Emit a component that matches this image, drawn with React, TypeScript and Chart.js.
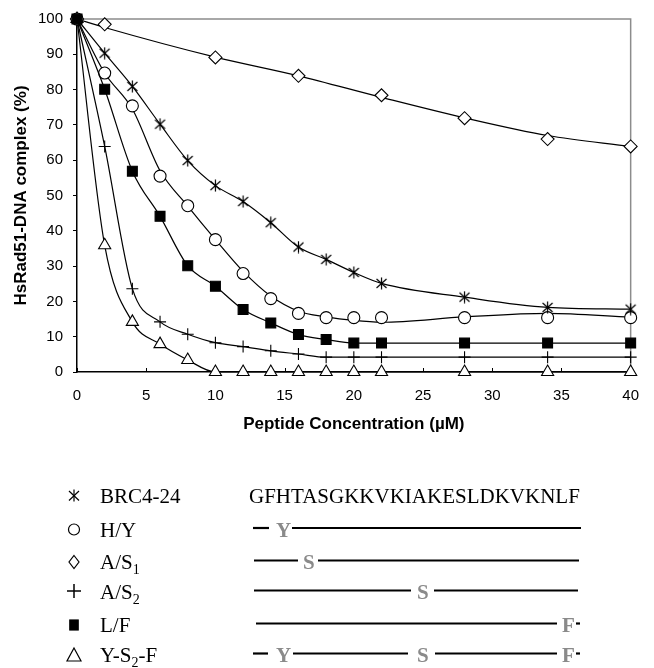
import React, { useEffect, useRef } from 'react';
import { Chart, registerables } from 'chart.js';

Chart.register(...registerables);

// ---- data ----
const concentrations = [0, 2, 4, 6, 8, 10, 12, 14, 16, 18, 20, 22, 28, 34, 40];
const diamondConcentrations = [0, 2, 10, 16, 22, 28, 34, 40];

const brc4Values = [100, 90.3, 80.9, 70.2, 59.9, 52.8, 48.3, 42.3, 35.4, 31.9, 28.2, 25.1, 21.2, 18.3, 17.8];
const hyValues = [100, 84.7, 75.4, 55.5, 47.1, 37.5, 27.9, 20.8, 16.6, 15.4, 15.4, 15.4, 15.4, 15.4, 15.4];
const hyCurve = [100, 84.7, 74.5, 57, 47, 37.5, 28.5, 21.5, 17.2, 15.6, 14.6, 14.1, 15.6, 16.6, 15.5];
const as1Values = [100, 98.5, 89.1, 83.9, 78.4, 71.9, 66, 63.9];
const as1Curve = [100, 97.6, 89.2, 83.9, 77.8, 72.0, 67.0, 63.9];
const as2Values = [100, 63.9, 23.6, 14.2, 10.7, 8.3, 7.2, 6.0, 5.1, 4.2, 4.2, 4.2, 4.2, 4.2, 4.2];
const lfValues = [100, 80.1, 56.9, 44.1, 30.1, 24.3, 17.7, 13.9, 10.6, 9.2, 8.2, 8.2, 8.2, 8.2, 8.2];
const ys2fValues = [100, 35.9, 14.2, 7.9, 3.4, 0, 0, 0, 0, 0, 0, 0, 0, 0, 0];

const xTitle = 'Peptide Concentration (µM)';
const yTitle = 'HsRad51-DNA complex (%)';
const sequence = 'GFHTASGKKVKIAKESLDKVKNLF';

const SANS = "'Liberation Sans', Arial, sans-serif";
const SERIF = "'Liberation Serif', 'Times New Roman', serif";

function pts(xs: number[], ys: number[]) {
  return xs.map((x, i) => ({ x, y: ys[i] }));
}

function makeAsterisk(): HTMLCanvasElement {
  const c = document.createElement('canvas');
  c.width = 13;
  c.height = 13;
  const g = c.getContext('2d')!;
  g.strokeStyle = '#000';
  g.lineWidth = 1.2;
  g.beginPath();
  g.moveTo(6.5, 0.5); g.lineTo(6.5, 12.5);
  g.moveTo(1.5, 2); g.lineTo(11.5, 11);
  g.moveTo(11.5, 2); g.lineTo(1.5, 11);
  g.stroke();
  return c;
}

const framePlugin = {
  id: 'frame',
  beforeDatasetsDraw(chart: any) {
    const { ctx, chartArea } = chart;
    const { left, right, top, bottom } = chartArea;
    ctx.save();
    ctx.strokeStyle = '#8c8c8c';
    ctx.lineWidth = 1.5;
    ctx.beginPath();
    ctx.moveTo(left, top);
    ctx.lineTo(right, top);
    ctx.lineTo(right, bottom);
    ctx.stroke();
    const xs = chart.scales.x;
    ctx.strokeStyle = '#000';
    ctx.lineWidth = 1;
    xs.ticks.forEach((t: any) => {
      const px = Math.round(xs.getPixelForValue(t.value)) + 0.5;
      ctx.beginPath();
      ctx.moveTo(px, bottom);
      ctx.lineTo(px, bottom - 4);
      ctx.stroke();
    });
    ctx.restore();
  },
};

function ChartPanel() {
  const ref = useRef<HTMLCanvasElement | null>(null);
  useEffect(() => {
    if (!ref.current) return;
    const asterisk = makeAsterisk();
    const lineBase = {
      borderColor: '#000',
      borderWidth: 1.2,
      cubicInterpolationMode: 'monotone' as const,
      clip: false as any,
    };
    const markerBase = {
      borderColor: '#000',
      pointBorderColor: '#000',
      pointBorderWidth: 1.1,
      showLine: false,
      clip: false as any,
    };
    const datasets: any[] = [
      { ...lineBase, ...markerBase, showLine: true, label: 'L/F', data: pts(concentrations, lfValues), pointStyle: 'rect', pointRadius: 7, pointBackgroundColor: '#000' },
      { ...lineBase, ...markerBase, showLine: true, label: 'BRC4-24', data: pts(concentrations, brc4Values), pointStyle: asterisk, pointRadius: 6 },
      { ...markerBase, label: 'H/Y', data: pts(concentrations, hyValues), pointStyle: 'circle', pointRadius: 6, pointBackgroundColor: '#fff' },
      { ...lineBase, label: 'H/Y curve', data: pts(concentrations, hyCurve), pointRadius: 0 },
      { ...markerBase, label: 'A/S1', data: pts(diamondConcentrations, as1Values), pointStyle: 'rectRot', pointRadius: 6.5, pointBackgroundColor: '#fff' },
      { ...lineBase, label: 'A/S1 curve', data: pts(diamondConcentrations, as1Curve), pointRadius: 0 },
      { ...lineBase, ...markerBase, showLine: true, label: 'A/S2', data: pts(concentrations, as2Values), pointStyle: 'cross', pointRadius: 6 },
      { ...lineBase, ...markerBase, showLine: true, label: 'Y-S2-F', data: pts(concentrations, ys2fValues), pointStyle: 'triangle', pointRadius: 7, pointBackgroundColor: '#fff' },
    ];
    const tickFont = { family: SANS, size: 15 };
    const titleFont = { family: SANS, size: 17, weight: 'bold' as const };
    const chart = new Chart(ref.current, {
      type: 'line',
      data: { datasets },
      options: {
        animation: false,
        responsive: false,
        maintainAspectRatio: false,
        devicePixelRatio: 1,
        layout: { padding: { left: 0, right: 9, top: 18, bottom: 0 } },
        plugins: { legend: { display: false }, tooltip: { enabled: false } },
        elements: { line: { tension: 0.4 } },
        scales: {
          x: {
            type: 'linear',
            min: 0,
            max: 40,
            ticks: { stepSize: 5, padding: 15, font: tickFont, color: '#000', maxRotation: 0 },
            grid: { display: false, drawTicks: false },
            border: { display: true, color: '#000', width: 1.5 },
            title: { display: true, text: xTitle, font: titleFont, color: '#000', padding: { top: 0, bottom: 15 } },
            afterFit(scale: any) { scale.height = 78; },
          },
          y: {
            type: 'linear',
            min: 0,
            max: 100,
            ticks: { stepSize: 10, padding: 10, font: tickFont, color: '#000' },
            grid: { display: true, drawOnChartArea: false, drawTicks: true, tickLength: 4, color: '#000' },
            border: { display: true, color: '#000', width: 1.5 },
            title: { display: true, text: yTitle, font: titleFont, color: '#000', padding: { top: 11, bottom: 0 } },
            afterFit(scale: any) { scale.width = 77; },
          },
        },
      } as any,
      plugins: [framePlugin],
    });
    return () => chart.destroy();
  }, []);
  return (
    <canvas
      ref={ref}
      width={654}
      height={450}
      style={{ position: 'absolute', left: 0, top: 0, width: 654, height: 450 }}
    />
  );
}

const rowCenters = [495.5, 529.5, 562, 592, 625, 655];

function Txt({ x, cy, children, style }: any) {
  return (
    <span
      style={{
        position: 'absolute',
        left: x,
        top: cy - 12,
        lineHeight: '24px',
        fontSize: 21,
        fontFamily: SERIF,
        color: '#000',
        whiteSpace: 'nowrap',
        ...style,
      }}
    >
      {children}
    </span>
  );
}

const Sub = ({ children }: any) => (
  <span style={{ fontSize: 14, verticalAlign: '-5px', lineHeight: 1 }}>{children}</span>
);

const grey = { color: '#8a8a8a', fontWeight: 'bold' };

function Legend() {
  const r = rowCenters;
  const seg = (x1: number, x2: number, cy: number, key: string) => (
    <line key={key} x1={x1} x2={x2} y1={cy - 1.5} y2={cy - 1.5} stroke="#000" strokeWidth={2.2} />
  );
  const mx = 74;
  return (
    <>
      <svg width={654} height={668} style={{ position: 'absolute', left: 0, top: 0 }}>
        <g stroke="#000" strokeWidth={1.2} fill="none">
          <line x1={mx} y1={r[0] - 6} x2={mx} y2={r[0] + 6} />
          <line x1={mx - 5} y1={r[0] - 4.5} x2={mx + 5} y2={r[0] + 5} />
          <line x1={mx + 5} y1={r[0] - 4.5} x2={mx - 5} y2={r[0] + 5} />
          <circle cx={mx} cy={r[1]} r={5.5} />
          <polygon points={`${mx},${r[2] - 6.5} ${mx + 5},${r[2]} ${mx},${r[2] + 6.5} ${mx - 5},${r[2]}`} />
          <line x1={mx - 7} y1={r[3] - 1} x2={mx + 7} y2={r[3] - 1} strokeWidth={1.5} />
          <line x1={mx} y1={r[3] - 8} x2={mx} y2={r[3] + 6} strokeWidth={1.5} />
          <rect x={mx - 4.2} y={r[4] - 5} width={8.4} height={10} fill="#000" />
          <polygon points={`${mx},${r[5] - 7} ${mx + 7},${r[5] + 6} ${mx - 7},${r[5] + 6}`} />
        </g>
        {seg(253, 269, r[1], 'a1')}
        {seg(292, 581, r[1], 'a2')}
        {seg(254, 298, r[2], 'b1')}
        {seg(318, 579, r[2], 'b2')}
        {seg(254, 411, r[3], 'c1')}
        {seg(434, 578, r[3], 'c2')}
        {seg(256, 557, r[4], 'd1')}
        {seg(576, 580, r[4], 'd2')}
        {seg(253, 268, r[5], 'e1')}
        {seg(293, 408, r[5], 'e2')}
        {seg(435, 557, r[5], 'e3')}
        {seg(576, 580, r[5], 'e4')}
      </svg>
      <Txt x={100} cy={r[0]}>BRC4-24</Txt>
      <Txt x={100} cy={r[1]}>H/Y</Txt>
      <Txt x={100} cy={r[2]}>A/S<Sub>1</Sub></Txt>
      <Txt x={100} cy={r[3]}>A/S<Sub>2</Sub></Txt>
      <Txt x={100} cy={r[4]}>L/F</Txt>
      <Txt x={100} cy={r[5]}>Y-S<Sub>2</Sub>-F</Txt>

      <Txt x={249} cy={r[0]}>{sequence}</Txt>
      <Txt x={276} cy={r[1]} style={grey}>Y</Txt>
      <Txt x={303} cy={r[2]} style={grey}>S</Txt>
      <Txt x={417} cy={r[3]} style={grey}>S</Txt>
      <Txt x={562} cy={r[4]} style={grey}>F</Txt>
      <Txt x={276} cy={r[5]} style={grey}>Y</Txt>
      <Txt x={417} cy={r[5]} style={grey}>S</Txt>
      <Txt x={562} cy={r[5]} style={grey}>F</Txt>
    </>
  );
}

export default function App() {
  return (
    <div
      style={{
        position: 'absolute',
        left: 0,
        top: 0,
        width: 654,
        height: 668,
        background: '#fff',
        overflow: 'hidden',
      }}
    >
      <ChartPanel />
      <Legend />
    </div>
  );
}
